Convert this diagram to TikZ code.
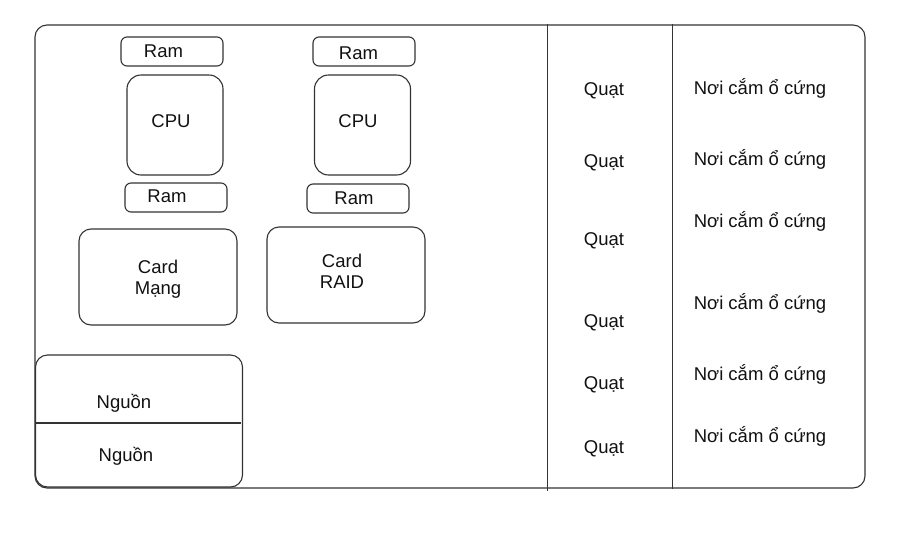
\documentclass[tikz,border=0pt]{standalone}
\usepackage{fontspec}
\setmainfont{Liberation Sans}
\usetikzlibrary{positioning}
\definecolor{linegray}{HTML}{333333}
\definecolor{textgray}{HTML}{111111}

\begin{document}
\begin{tikzpicture}[x=1pt, y=-1pt,
    part/.style={draw=linegray, line width=1.1pt, inner sep=0pt},
    ram/.style={part, rounded corners=6pt, minimum width=102pt, minimum height=29pt},
    cpu/.style={part, rounded corners=14pt, minimum width=96pt, minimum height=100pt},
    card/.style={part, rounded corners=12pt, minimum width=158pt, minimum height=96pt},
    label/.style={inner sep=0pt, align=center, text=textgray, font=\fontsize{18.5}{21}\selectfont},
    divider/.style={draw=linegray, line width=1.1pt}
]
\useasboundingbox (0,0) rectangle (913,544);

% --- chassis ---
\node[part, rounded corners=12pt, minimum width=830pt, minimum height=463pt] (chassis) at (450,256.5) {};

% --- board: cpus and ram ---
\node[ram]  (ramA) at (172,51.5)  {};
\node[cpu]  (cpuA) at (175,125)   {};
\node[ram]  (ramB) at (176,197.5) {};
\node[ram]  (ramC) at (364,51.5)  {};
\node[cpu]  (cpuB) at (362.5,125) {};
\node[ram]  (ramD) at (358,198.5) {};

\node[label] (ramAtext) at (163.5,51)  {Ram};
\node[label] (cpuAtext) at (171,121.5) {CPU};
\node[label] (ramBtext) at (167,196.5) {Ram};
\node[label] (ramCtext) at (358.5,53)  {Ram};
\node[label] (cpuBtext) at (358,121.5) {CPU};
\node[label] (ramDtext) at (354,198.5) {Ram};

% --- cards ---
\node[card] (nic)  at (158,277) {};
\node[card] (raid) at (346,275) {};
\node[label] (nictext)  at (158,279)   {Card\\Mạng};
\node[label] (raidtext) at (342,271.5) {Card\\RAID};

% --- power supply ---
\node[part, rounded corners=12pt, minimum width=207pt, minimum height=132pt] (psu) at (139,421) {};
\node[label] (psuA) at (124,403) {Nguồn};
\node[label] (psuB) at (126,456) {Nguồn};
\draw[divider] ([xshift=1pt,yshift=-2pt]psu.west) -- ([xshift=-2pt,yshift=-2pt]psu.east);

% --- fan and drive columns ---
\draw[divider] ([xshift=513pt]chassis.north west) -- ([xshift=513pt,yshift=-2pt]chassis.south west);
\draw[divider] ([xshift=638pt]chassis.north west) -- ([xshift=638pt]chassis.south west);

\node[label] (fanA) at (604,91)  {Quạt};
\node[label] (fanB) at (604,163) {Quạt};
\node[label] (fanC) at (604,241) {Quạt};
\node[label] (fanD) at (604,323) {Quạt};
\node[label] (fanE) at (604,385) {Quạt};
\node[label] (fanF) at (604,449) {Quạt};

\node[label] (bayA) at (760,88)  {Nơi cắm ổ cứng};
\node[label] (bayB) at (760,159) {Nơi cắm ổ cứng};
\node[label] (bayC) at (760,221) {Nơi cắm ổ cứng};
\node[label] (bayD) at (760,303) {Nơi cắm ổ cứng};
\node[label] (bayE) at (760,374) {Nơi cắm ổ cứng};
\node[label] (bayF) at (760,436) {Nơi cắm ổ cứng};

\end{tikzpicture}
\end{document}
